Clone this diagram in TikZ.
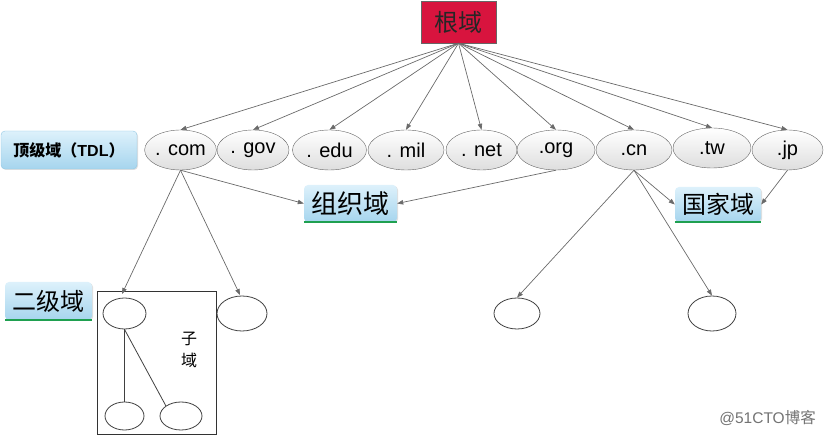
\documentclass[tikz,border=0pt]{standalone}
\usepackage{fontspec}
\setmainfont{Liberation Sans}
\newfontfamily\cjk{Noto Sans CJK SC}
\usetikzlibrary{shapes.geometric,arrows.meta,shadows}
\definecolor{rootred}{HTML}{D8143E}
\definecolor{lblue}{HTML}{DDF1FB}
\definecolor{dblue}{HTML}{A6D5EE}
\definecolor{bblue}{HTML}{93C8E4}
\definecolor{ugreen}{HTML}{1FA050}
\definecolor{lgray}{HTML}{6A6A6A}
\tikzset{
  tld/.style={ellipse,draw=black!60,top color=white,bottom color=black!13,
    inner sep=0pt,minimum height=40pt,font=\fontsize{20}{20}\selectfont},
  arr/.style={draw=lgray,line width=0.7pt,-{Triangle[length=6pt,width=4.5pt]}},
  plain/.style={draw=black!75,line width=0.8pt},
  sub/.style={ellipse,draw=black!75,line width=0.8pt,inner sep=0pt},
  bluebox/.style={rounded corners=4pt,top color=lblue,bottom color=dblue,inner sep=0pt,
    drop shadow={shadow xshift=1pt,shadow yshift=-1pt,opacity=0.25}},
  uline/.style={draw=ugreen,line width=1.6pt},
}
\begin{document}
\begin{tikzpicture}[x=1pt,y=-1pt]
\useasboundingbox (0,0) rectangle (825,435);
% root
\node[draw=black!60,fill=rootred,minimum width=75pt,minimum height=42pt,inner sep=0pt,
  font=\cjk\fontsize{24}{24}\selectfont,text=black!85] (root) at (458.5,22) {根域};
% TLDs
\node[tld,minimum width=71pt] (com) at (180.5,150) {. com};
\node[tld,minimum width=72pt] (gov) at (253,150) {. gov};
\node[tld,minimum width=74pt] (edu) at (329.5,150) {. edu};
\node[tld,minimum width=76pt] (mil) at (406,150) {. mil};
\node[tld,minimum width=71pt] (net) at (481.5,150) {. net};
\node[tld,minimum width=78pt] (org) at (556,150) {.org};
\node[tld,minimum width=76pt] (cn) at (634,150) {.cn};
\node[tld,minimum width=78pt] (tw) at (712,148) {.tw};
\node[tld,minimum width=71pt] (jp) at (787.5,150) {.jp};
\foreach \t in {com,gov,edu,mil,net,org,cn,tw,jp}
  \draw[arr] (root.south) -- (\t.north);
% label boxes
\node[bluebox,draw=bblue,minimum width=136pt,minimum height=38pt,
  font=\fontsize{16}{16}\selectfont\bfseries] (tdl) at (69,150) {{\cjk 顶级域（}TDL{\cjk ）}};
\node[bluebox,minimum width=93pt,minimum height=37pt,
  font=\cjk\fontsize{26}{26}\selectfont] (org2) at (350.5,203.5) {组织域};
\draw[uline] (org2.south west) -- (org2.south east);
\node[bluebox,minimum width=86pt,minimum height=35pt,
  font=\cjk\fontsize{24}{24}\selectfont] (cty) at (718,204.5) {国家域};
\draw[uline] (cty.south west) -- (cty.south east);
\node[bluebox,minimum width=87pt,minimum height=38pt,
  font=\cjk\fontsize{24}{24}\selectfont] (sld) at (48.5,301) {二级域};
\draw[uline] (sld.south west) -- (sld.south east);
\draw[arr] (com.south) -- (org2.west);
\draw[arr] (org.south) -- (org2.east);
\draw[arr] (cn.south) -- (cty.west);
\draw[arr] (jp.south) -- (cty.east);
% second level
\node[draw=black!80,line width=0.8pt,minimum width=119pt,minimum height=143pt,inner sep=0pt] (subbox) at (156.5,362.5) {};
\node[sub,minimum width=43pt,minimum height=31pt] (a1) at (124.5,313.5) {};
\node[sub,minimum width=50pt,minimum height=35pt] (a2) at (242,313.5) {};
\node[sub,minimum width=39pt,minimum height=28pt] (b1) at (124.5,416) {};
\node[sub,minimum width=42pt,minimum height=28pt] (b2) at (181,416) {};
\node[sub,minimum width=46pt,minimum height=31pt] (c1) at (517,313.5) {};
\node[sub,minimum width=48pt,minimum height=35pt] (c2) at (712,313.5) {};
\node[font=\cjk\fontsize{16}{16}\selectfont,align=center,inner sep=0pt] (zy) at (189,350) {子\\[6pt]域};
\coordinate (ta1) at (122,294);
\coordinate (ta2) at (240,295);
\draw[arr] (com.south) -- (ta1);
\draw[arr] (com.south) -- (ta2);
\draw[arr] (cn.south) -- (c1.north);
\draw[arr] (cn.south) -- (c2.north);
\draw[plain] (a1.south) -- (b1.north);
\draw[plain] (a1.south) -- (b2.north west);
% watermark
\node[text=black!55,font=\fontsize{15.5}{15.5}\selectfont,anchor=east,inner sep=0pt] (wm) at (816,418) {@51CTO{\cjk 博客}};
\end{tikzpicture}
\end{document}
